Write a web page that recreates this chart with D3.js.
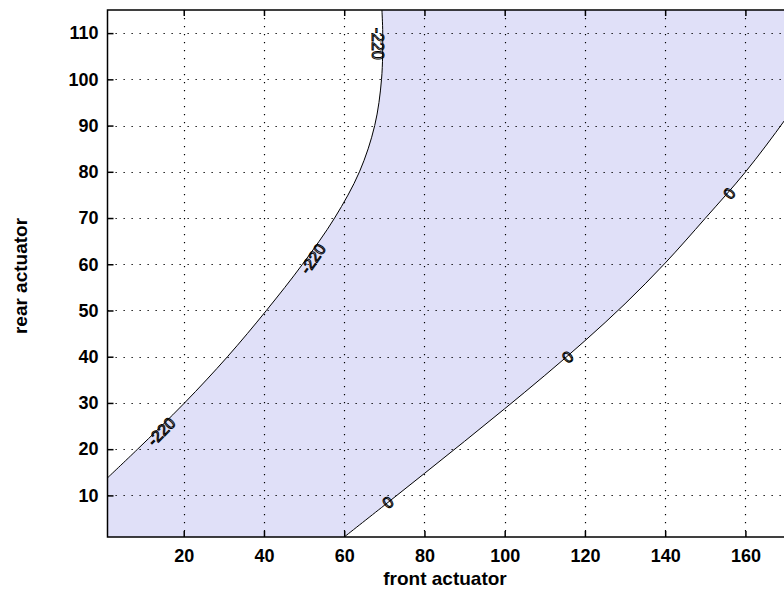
<!DOCTYPE html>
<html><head><meta charset="utf-8">
<script src="https://cdn.jsdelivr.net/npm/d3@7"></script>
<style>
html,body{margin:0;padding:0;background:#fff;}
svg{display:block;}
text{font-family:"Liberation Sans",Arial,sans-serif;}
</style></head>
<body>
<script>
// ---- data ----
const xTicks = [20, 40, 60, 80, 100, 120, 140, 160];
const yTicks = [10, 20, 30, 40, 50, 60, 70, 80, 90, 100, 110];
// contour level -220 (left curve), points as [front, rear]
const leftCurveX = [1, 8.5, 20.2, 30.9, 40.6, 49.6, 57.6, 63.8, 67.6, 69.3, 69.6, 69.4];
const leftCurveY = [13.8, 20, 30, 40, 50, 60, 70, 80, 90, 100, 110, 115];
// contour level 0 (right curve)
const rightCurveX = [60, 70, 80, 90, 100, 110, 120, 130, 140, 150, 160, 170, 180];
const rightCurveY = [1, 7.85, 14.75, 21.7, 28.75, 35.95, 43.45, 51.45, 60.25, 69.95, 79.95, 91.4, 104];
// contour labels
const labelText = ["-220", "-220", "-220", "0", "0", "0"];
const labelX = [14.4, 52.2, 68.4, 70.9, 115.7, 156];
const labelY = [23.8, 61.2, 107.7, 8.5, 39.9, 75.3];
const labelAngle = [-45, -55, 90, -39, -41, -50];
const xLabel = "front actuator";
const yLabel = "rear actuator";

// ---- layout ----
const W = 784, H = 593;
const mLeft = 107.5, mTop = 10, mBottom = 537;
const xMax = 180, yMax = 115;
const x = d3.scaleLinear().domain([1, xMax]).range([mLeft, mLeft + (xMax - 1) * 4.012]);
const y = d3.scaleLinear().domain([1, yMax]).range([mBottom, mTop]);

const svg = d3.select("body").append("svg").attr("width", W).attr("height", H);
svg.append("defs").append("clipPath").attr("id", "clip")
  .append("rect").attr("x", x(1)).attr("y", y(yMax)).attr("width", x(xMax) - x(1)).attr("height", y(1) - y(yMax));

const plot = svg.append("g").attr("clip-path", "url(#clip)");
plot.append("rect").attr("x", x(1)).attr("y", y(yMax)).attr("width", x(xMax) - x(1)).attr("height", y(1) - y(yMax)).attr("fill", "#fff");

const leftPts = leftCurveX.map((v, i) => [v, leftCurveY[i]]);
const rightPts = rightCurveX.map((v, i) => [v, rightCurveY[i]]);
const line = d3.line().x(d => x(d[0])).y(d => y(d[1])).curve(d3.curveCatmullRom.alpha(0.5));

const leftD = line(leftPts);
const rightRevD = line(rightPts.slice().reverse()).replace(/^M/, "L");
const lastR = rightPts[rightPts.length - 1];
const fillD = leftD + `L${x(xMax)},${y(yMax)}L${x(lastR[0])},${y(lastR[1])}` + rightRevD + `L${x(1)},${y(1)}Z`;
plot.append("path").attr("d", fillD).attr("fill", "#e0e0f8").attr("stroke", "none");

// grid
const grid = plot.append("g").attr("stroke", "#000").attr("stroke-width", 1.2).attr("stroke-dasharray", "1.3,6.7");
xTicks.forEach(t => grid.append("line").attr("x1", Math.round(x(t)) + 0.5).attr("x2", Math.round(x(t)) + 0.5).attr("y1", y(yMax)).attr("y2", y(1)));
yTicks.forEach(t => grid.append("line").attr("y1", Math.round(y(t)) + 0.5).attr("y2", Math.round(y(t)) + 0.5).attr("x1", x(1)).attr("x2", x(xMax)));

// contour lines
plot.append("path").attr("d", leftD).attr("fill", "none").attr("stroke", "#000").attr("stroke-width", 1);
plot.append("path").attr("d", line(rightPts)).attr("fill", "none").attr("stroke", "#000").attr("stroke-width", 1);

// labels
labelText.forEach((t, i) => {
  plot.append("text").attr("transform", `translate(${x(labelX[i])},${y(labelY[i])}) rotate(${labelAngle[i]})`)
    .attr("text-anchor", "middle").attr("dy", "0.35em").attr("font-size", 16).attr("fill", "none")
    .attr("stroke", "#000").attr("stroke-width", 1).text(t);
});

// axes
const axB = svg.append("g").attr("transform", `translate(0,${mBottom})`)
  .call(d3.axisBottom(x).tickValues(xTicks).tickSizeInner(-6).tickSizeOuter(0).tickPadding(12));
const axT = svg.append("g").attr("transform", `translate(0,${mTop})`)
  .call(d3.axisTop(x).tickValues(xTicks).tickSizeInner(-6).tickSizeOuter(0).tickFormat(""));
const axL = svg.append("g").attr("transform", `translate(${mLeft},0)`)
  .call(d3.axisLeft(y).tickValues(yTicks).tickSizeInner(-6).tickSizeOuter(0).tickPadding(9));
[axB, axT, axL].forEach(a => {
  a.selectAll(".domain").remove();
  a.selectAll("line").attr("stroke", "#000").attr("stroke-width", 1.5);
  a.selectAll("text").attr("font-size", 18).attr("font-weight", "bold").attr("fill", "#000")
   .attr("font-family", "'Liberation Sans',Arial,sans-serif");
});
// border
svg.append("rect").attr("x", x(1)).attr("y", y(yMax)).attr("width", x(xMax) - x(1)).attr("height", y(1) - y(yMax))
  .attr("fill", "none").attr("stroke", "#000").attr("stroke-width", 1.5);

// axis titles
svg.append("text").attr("x", 445).attr("y", 585).attr("text-anchor", "middle")
  .attr("font-size", 19).attr("font-weight", "bold").text(xLabel);
svg.append("text").attr("transform", "translate(27,276) rotate(-90)").attr("text-anchor", "middle")
  .attr("font-size", 19).attr("font-weight", "bold").text(yLabel);
</script>
</body></html>
